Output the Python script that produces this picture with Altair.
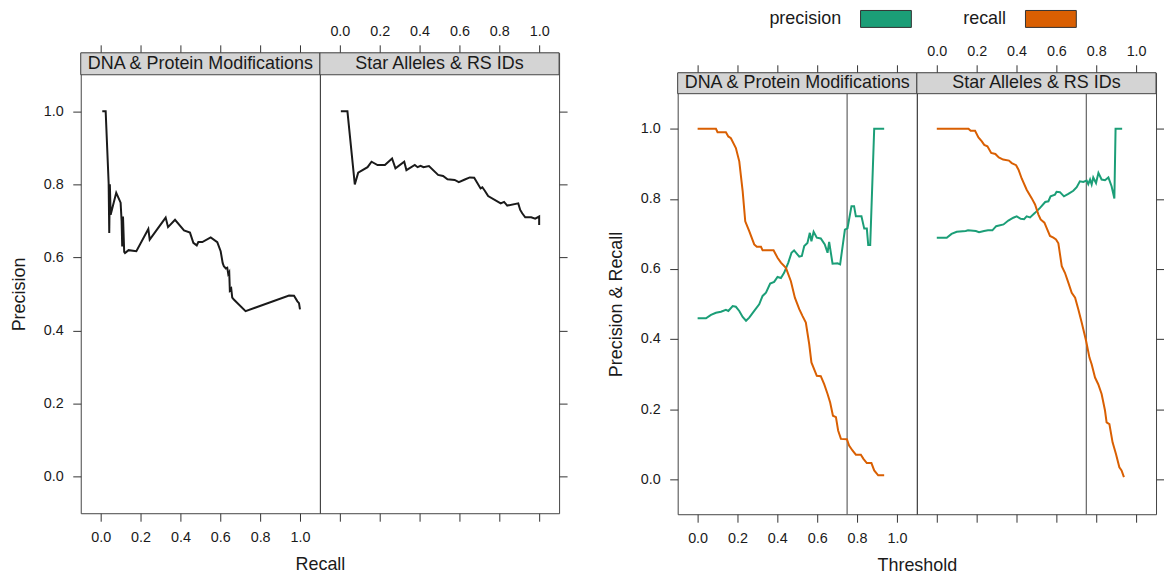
import altair as alt
import pandas as pd

# ---------------- data ----------------
panels = ["DNA & Protein Modifications", "Star Alleles & RS IDs"]
tick_values = [0.0, 0.2, 0.4, 0.6, 0.8, 1.0]
series = ["precision", "recall"]
series_colors = ["#1B9E77", "#D95F02"]
cutoff = 0.75

# left figure: (recall, precision)
pr_dna = [(0.008, 1.0), (0.025, 1.0), (0.040, 0.803), (0.043, 0.667), (0.046, 0.800), (0.050, 0.717),
          (0.078, 0.777), (0.100, 0.750), (0.105, 0.700), (0.108, 0.630), (0.112, 0.712), (0.118, 0.615),
          (0.122, 0.612), (0.140, 0.620), (0.179, 0.617), (0.239, 0.678), (0.246, 0.649), (0.326, 0.709),
          (0.338, 0.683), (0.373, 0.703), (0.418, 0.674), (0.448, 0.668), (0.465, 0.640), (0.482, 0.633),
          (0.490, 0.642), (0.510, 0.642), (0.552, 0.655), (0.585, 0.642), (0.602, 0.617), (0.612, 0.585),
          (0.618, 0.576), (0.628, 0.570), (0.635, 0.572), (0.640, 0.555), (0.645, 0.560), (0.648, 0.510),
          (0.655, 0.515), (0.660, 0.490), (0.668, 0.485), (0.727, 0.453), (0.945, 0.496), (0.970, 0.495),
          (0.987, 0.480), (0.995, 0.475), (1.0, 0.458)]
pr_star = [(0.005, 1.0), (0.038, 1.0), (0.075, 0.800), (0.092, 0.832), (0.139, 0.847), (0.159, 0.862),
           (0.189, 0.853), (0.226, 0.853), (0.262, 0.871), (0.279, 0.844), (0.323, 0.862), (0.334, 0.839),
           (0.376, 0.853), (0.390, 0.847), (0.405, 0.851), (0.420, 0.847), (0.447, 0.850), (0.493, 0.826),
           (0.518, 0.823), (0.540, 0.814), (0.576, 0.812), (0.597, 0.806), (0.630, 0.814), (0.652, 0.819),
           (0.674, 0.818), (0.706, 0.789), (0.715, 0.792), (0.728, 0.782), (0.744, 0.768), (0.807, 0.748),
           (0.824, 0.752), (0.840, 0.742), (0.895, 0.748), (0.905, 0.730), (0.915, 0.721), (0.930, 0.710),
           (0.960, 0.710), (0.980, 0.706), (1.0, 0.712), (1.0, 0.689)]

# right figure: (threshold, value)
th_dna_precision = [(0.0, 0.459), (0.042, 0.459), (0.067, 0.469), (0.092, 0.475), (0.117, 0.478), (0.142, 0.483),
                    (0.154, 0.480), (0.176, 0.494), (0.192, 0.492), (0.209, 0.480), (0.226, 0.463), (0.243, 0.452),
                    (0.259, 0.461), (0.284, 0.480), (0.309, 0.499), (0.326, 0.523), (0.343, 0.532), (0.364, 0.558),
                    (0.384, 0.563), (0.401, 0.577), (0.418, 0.574), (0.434, 0.589), (0.455, 0.618), (0.471, 0.646),
                    (0.484, 0.653), (0.510, 0.635), (0.523, 0.637), (0.535, 0.665), (0.551, 0.674), (0.563, 0.703),
                    (0.571, 0.679), (0.582, 0.706), (0.598, 0.689), (0.618, 0.687), (0.638, 0.670), (0.652, 0.646),
                    (0.660, 0.677), (0.677, 0.615), (0.702, 0.616), (0.715, 0.613), (0.739, 0.712), (0.752, 0.716),
                    (0.772, 0.779), (0.785, 0.779), (0.794, 0.750), (0.822, 0.750), (0.836, 0.715), (0.849, 0.715),
                    (0.856, 0.668), (0.866, 0.668), (0.886, 1.0), (0.936, 1.0)]
th_dna_recall = [(0.0, 1.0), (0.092, 1.0), (0.100, 0.990), (0.142, 0.990), (0.154, 0.978), (0.167, 0.973),
                 (0.192, 0.945), (0.209, 0.907), (0.226, 0.822), (0.239, 0.736), (0.259, 0.708), (0.284, 0.670),
                 (0.297, 0.663), (0.318, 0.663), (0.326, 0.653), (0.381, 0.653), (0.401, 0.632), (0.418, 0.618),
                 (0.443, 0.603), (0.468, 0.565), (0.488, 0.518), (0.510, 0.485), (0.526, 0.466), (0.543, 0.447),
                 (0.560, 0.385), (0.571, 0.333), (0.598, 0.295), (0.618, 0.294), (0.635, 0.271), (0.652, 0.243),
                 (0.665, 0.219), (0.679, 0.181), (0.694, 0.177), (0.705, 0.139), (0.719, 0.115), (0.749, 0.114),
                 (0.760, 0.096), (0.777, 0.082), (0.794, 0.070), (0.819, 0.070), (0.832, 0.058), (0.849, 0.046),
                 (0.872, 0.046), (0.886, 0.025), (0.906, 0.011), (0.936, 0.011)]
th_star_precision = [(0.0, 0.689), (0.050, 0.689), (0.074, 0.700), (0.100, 0.706), (0.145, 0.708), (0.157, 0.710),
                     (0.196, 0.708), (0.212, 0.705), (0.237, 0.708), (0.257, 0.710), (0.279, 0.710), (0.298, 0.722),
                     (0.335, 0.727), (0.359, 0.738), (0.384, 0.746), (0.401, 0.750), (0.421, 0.743), (0.438, 0.742),
                     (0.451, 0.750), (0.468, 0.747), (0.493, 0.760), (0.518, 0.774), (0.544, 0.791), (0.560, 0.793),
                     (0.571, 0.807), (0.593, 0.812), (0.601, 0.820), (0.618, 0.819), (0.638, 0.807), (0.660, 0.814),
                     (0.685, 0.823), (0.702, 0.833), (0.718, 0.850), (0.735, 0.848), (0.752, 0.852), (0.760, 0.842),
                     (0.769, 0.855), (0.777, 0.841), (0.785, 0.861), (0.799, 0.845), (0.811, 0.874), (0.827, 0.855),
                     (0.844, 0.853), (0.861, 0.861), (0.877, 0.836), (0.891, 0.801), (0.897, 1.0), (0.930, 1.0)]
th_star_recall = [(0.0, 1.0), (0.159, 1.0), (0.170, 0.994), (0.192, 0.994), (0.209, 0.975), (0.226, 0.964),
                  (0.238, 0.954), (0.254, 0.950), (0.273, 0.931), (0.294, 0.928), (0.311, 0.918), (0.333, 0.912),
                  (0.362, 0.909), (0.376, 0.902), (0.398, 0.896), (0.410, 0.883), (0.426, 0.858), (0.451, 0.826),
                  (0.476, 0.802), (0.493, 0.784), (0.510, 0.755), (0.521, 0.741), (0.540, 0.732), (0.551, 0.717),
                  (0.568, 0.694), (0.585, 0.689), (0.598, 0.684), (0.610, 0.673), (0.627, 0.608), (0.643, 0.589),
                  (0.660, 0.561), (0.677, 0.532), (0.694, 0.518), (0.710, 0.485), (0.727, 0.447), (0.749, 0.395),
                  (0.766, 0.347), (0.777, 0.328), (0.794, 0.290), (0.810, 0.271), (0.827, 0.243), (0.844, 0.196),
                  (0.852, 0.162), (0.866, 0.157), (0.882, 0.105), (0.899, 0.072), (0.916, 0.034), (0.927, 0.025),
                  (0.939, 0.006)]

# ---------------- style / layout ----------------
FONT = "Liberation Sans"
TXT = "#1a1a1a"
FRAME = "#444444"
STRIP_FILL = "#D4D4D4"
W = 240
H_LEFT, S_LEFT = 440, 22
H_RIGHT, S_RIGHT = 422, 21
X_LO, X_HI = -0.1, 1.1
Y_LO, Y_HI = -0.1, 1.1
LABEL_FS = 14.4
TITLE_FS = 18


def frame(pairs, name=None):
    df = pd.DataFrame(pairs, columns=["x", "y"])
    df["i"] = range(len(df))
    if name is not None:
        df["series"] = name
    return df


def panel(lines, panel_name, h, s, first, xtitle, ytitle, colored):
    top = Y_HI + (Y_HI - Y_LO) * s / h
    xs = alt.Scale(domain=[X_LO, X_HI], nice=False, zero=False)
    ys = alt.Scale(domain=[Y_LO, top], nice=False, zero=False)

    if first:
        bottom_axis = alt.Axis(orient="bottom", values=tick_values, format=".1f", labelPadding=9,
                               title=xtitle, titleX=W, titlePadding=12)
        y_axis = alt.Axis(orient="left", values=tick_values, format=".1f", labelPadding=9.5,
                          title=ytitle, titleY=s + h / 2, titlePadding=15)
        top_axis = alt.Axis(orient="top", values=tick_values, labels=False, title=None)
    else:
        bottom_axis = alt.Axis(orient="bottom", values=tick_values, labels=False, title=None)
        y_axis = alt.Axis(orient="right", values=tick_values, labels=False, title=None)
        top_axis = alt.Axis(orient="top", values=tick_values, format=".1f", labelPadding=6, title=None)

    enc = dict(
        x=alt.X("x:Q", scale=xs, axis=bottom_axis),
        y=alt.Y("y:Q", scale=ys, axis=y_axis),
        order=alt.Order("i:Q"),
    )
    if colored:
        line = alt.Chart(lines).mark_line(strokeWidth=2).encode(
            color=alt.Color("series:N", scale=alt.Scale(domain=series, range=series_colors), legend=None),
            detail="series:N", **enc)
    else:
        line = alt.Chart(lines).mark_line(strokeWidth=2, color="#1a1a1a").encode(**enc)

    strip_df = pd.DataFrame({"panel": [panel_name]})
    rect = alt.Chart(strip_df).mark_rect(fill=STRIP_FILL, stroke=FRAME, strokeWidth=1).encode(
        x=alt.X(datum=X_LO, type="quantitative", scale=xs, axis=top_axis),
        x2=alt.X2(datum=X_HI),
        y=alt.Y(datum=Y_HI, type="quantitative", scale=ys, axis=None),
        y2=alt.Y2(datum=top),
    )
    label = alt.Chart(strip_df).mark_text(font=FONT, fontSize=TITLE_FS, color=TXT, baseline="middle").encode(
        y=alt.Y(datum=(Y_HI + top) / 2, type="quantitative", scale=ys, axis=None),
        text="panel:N",
    )
    layers = []
    if colored:
        rule = alt.Chart(pd.DataFrame({"t": [cutoff]})).mark_rule(color=FRAME, strokeWidth=1).encode(
            x=alt.X("t:Q", scale=xs, axis=None),
            y=alt.Y(datum=Y_LO, type="quantitative", scale=ys, axis=None),
            y2=alt.Y2(datum=Y_HI),
        )
        layers.append(rule)
    layers += [line, rect, label]
    return alt.layer(*layers).resolve_axis(x="independent", y="independent").properties(width=W, height=h + s)


# left figure
pA = panel(frame(pr_dna), panels[0], H_LEFT, S_LEFT, True, "Recall", "Precision", False)
pB = panel(frame(pr_star), panels[1], H_LEFT, S_LEFT, False, "Recall", "Precision", False)
fig_left = alt.hconcat(pA, pB, spacing=0, bounds="flush")

# right figure
dna_df = pd.concat([frame(th_dna_precision, series[0]), frame(th_dna_recall, series[1])], ignore_index=True)
star_df = pd.concat([frame(th_star_precision, series[0]), frame(th_star_recall, series[1])], ignore_index=True)
pC = panel(dna_df, panels[0], H_RIGHT, S_RIGHT, True, "Threshold", "Precision & Recall", True)
pD = panel(star_df, panels[1], H_RIGHT, S_RIGHT, False, "Threshold", "Precision & Recall", True)
fig_right = alt.hconcat(pC, pD, spacing=0, bounds="flush")

# key above the right figure
leg_df = pd.DataFrame({"series": series})
lx = alt.X("series:N", scale=alt.Scale(domain=series, range=[209, 374.5], padding=0), axis=None)
leg_text = alt.Chart(leg_df).mark_text(align="right", baseline="middle", dx=-45, font=FONT,
                                       fontSize=TITLE_FS, color=TXT).encode(x=lx, text="series:N")
leg_box = alt.Chart(leg_df).mark_point(shape="M-1,-0.3333L1,-0.3333L1,0.3333L-1,0.3333Z", size=2601,
                                       filled=True, opacity=1, stroke="#333333", strokeWidth=1).encode(
    x=lx, fill=alt.Fill("series:N", scale=alt.Scale(domain=series, range=series_colors), legend=None))
legend = alt.layer(leg_text, leg_box).properties(
    width=2 * W, height=16, view=alt.ViewBackground(stroke="transparent", strokeWidth=0))

spacer = alt.Chart(pd.DataFrame({"s": [0]})).mark_point(opacity=0).properties(
    width=2 * W, height=10, view=alt.ViewBackground(stroke="transparent", strokeWidth=0))

left = alt.vconcat(spacer, fig_left, spacing=2)
right = alt.vconcat(legend, fig_right, spacing=13)

chart = alt.hconcat(left, right, spacing=38).properties(
    padding={"left": 1, "top": -1, "right": -1, "bottom": 0}
).configure(background="white").configure_view(
    stroke=FRAME, strokeWidth=1
).configure_axis(
    domain=False, grid=False, tickColor="#333333", tickSize=8, tickWidth=1,
    labelFont=FONT, labelFontSize=LABEL_FS, labelColor=TXT,
    titleFont=FONT, titleFontSize=TITLE_FS, titleFontWeight="normal", titleColor=TXT,
)

chart.save("out.html", embed_options={"renderer": "svg", "actions": False})
